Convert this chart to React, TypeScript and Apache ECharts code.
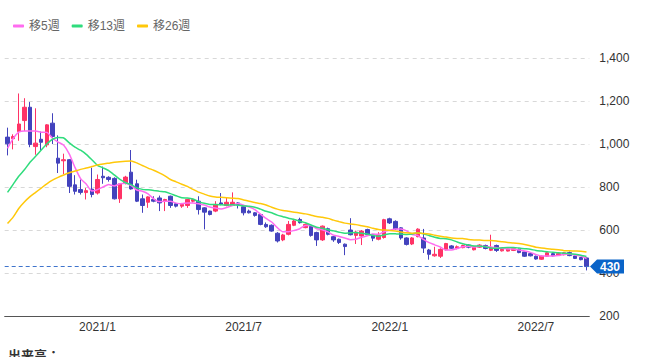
import React, { useEffect, useRef } from "react";
import * as echarts from "echarts";

// Weekly candles, first week starting 2020/9/14
const startYear = 2020;
const startMonth = 9;
const startDay = 14;

const opens = [
  1032, 1025, 1058, 1109, 1171, 988, 1022, 996, 1097, 934, 922, 927, 810, 788, 774, 790, 772, 850, 845, 840,
  745, 818, 869, 815, 745, 729, 742, 749, 734, 757, 722, 711, 714, 734, 734, 703, 688, 688, 726, 714,
  714, 726, 708, 688, 680, 672, 626, 622, 585, 554, 580, 622, 649, 611, 618, 588, 554, 606, 569, 557,
  534, 600, 575, 572, 602, 578, 557, 565, 652, 640, 610, 563, 535, 569, 563, 507, 480, 478, 508, 526,
  515, 518, 530, 508, 520, 528, 506, 528, 503, 502, 505, 510, 498, 490, 478, 464, 478, 490, 482, 485,
  495, 479, 472, 470,
];
const closes = [
  1001, 1035, 1093, 1171, 998, 1004, 1008, 1089, 1035, 911, 927, 803, 780, 775, 783, 765, 835, 843, 835, 745,
  815, 846, 791, 734, 714, 754, 734, 726, 742, 714, 711, 719, 742, 742, 695, 683, 672, 719, 720, 729,
  729, 718, 680, 680, 668, 626, 615, 595, 549, 577, 626, 642, 634, 626, 575, 554, 618, 580, 554, 542,
  523, 578, 590, 595, 578, 562, 576, 648, 633, 605, 563, 533, 563, 604, 516, 487, 487, 510, 537, 515,
  522, 528, 520, 522, 530, 514, 518, 505, 510, 512, 513, 495, 478, 480, 465, 478, 494, 480, 490, 494,
  481, 468, 462, 430,
];
const highs = [
  1076, 1045, 1235, 1213, 1195, 1166, 1058, 1092, 1143, 1040, 955, 930, 855, 835, 795, 890, 858, 895, 850, 845,
  818, 852, 972, 834, 765, 757, 757, 760, 745, 760, 726, 726, 745, 745, 757, 706, 690, 734, 772, 750,
  775, 730, 712, 695, 683, 675, 635, 626, 590, 582, 642, 652, 657, 630, 626, 592, 621, 611, 572, 560,
  537, 655, 597, 600, 606, 582, 590, 652, 657, 645, 613, 566, 567, 608, 605, 512, 522, 515, 540, 530,
  528, 532, 534, 526, 534, 532, 578, 532, 514, 515, 517, 514, 500, 493, 481, 481, 498, 493, 493, 497,
  500, 482, 475, 472,
];
const lows = [
  947, 975, 1015, 1060, 985, 950, 972, 985, 1000, 865, 860, 772, 765, 765, 742, 752, 765, 815, 825, 742,
  726, 812, 788, 730, 680, 703, 729, 688, 688, 703, 705, 703, 703, 728, 672, 603, 668, 683, 715, 710,
  712, 700, 668, 677, 662, 622, 610, 592, 542, 548, 575, 618, 630, 608, 569, 526, 549, 575, 545, 535,
  483, 575, 535, 530, 572, 548, 552, 560, 628, 600, 555, 528, 530, 566, 493, 462, 476, 470, 505, 512,
  510, 515, 515, 505, 517, 510, 502, 498, 500, 500, 502, 492, 475, 477, 462, 461, 475, 477, 479, 482,
  478, 465, 459, 412,
];

const ma5 = [
  980, 1025, 1055, 1060, 1060, 1060, 1055, 1054, 1027, 1009, 994, 953, 891, 839, 814, 781, 788, 800, 812, 805,
  815, 817, 806, 786, 780, 768, 745, 732, 734, 734, 725, 722, 726, 726, 722, 716, 707, 702, 698, 705,
  714, 723, 715, 707, 695, 674, 654, 637, 611, 592, 592, 598, 606, 621, 621, 606, 601, 591, 576, 570,
  563, 555, 557, 566, 573, 581, 580, 592, 599, 605, 605, 596, 579, 574, 556, 541, 531, 521, 507, 507,
  514, 522, 524, 521, 524, 523, 521, 518, 515, 512, 512, 507, 502, 496, 486, 479, 479, 479, 481, 487,
  488, 483, 479, 467,
];
const ma13 = [
  775, 812, 850, 880, 915, 943, 972, 1000, 1022, 1030, 1028, 1005, 985, 971, 952, 927, 901, 889, 876, 856,
  835, 820, 811, 796, 789, 787, 784, 780, 778, 769, 759, 750, 749, 744, 732, 724, 719, 719, 717, 716,
  717, 715, 712, 710, 706, 697, 687, 680, 669, 662, 655, 649, 641, 634, 623, 613, 608, 601, 596, 590,
  585, 587, 588, 585, 581, 575, 571, 577, 583, 582, 581, 579, 581, 587, 582, 574, 566, 561, 559, 554,
  544, 536, 530, 526, 526, 522, 516, 515, 517, 519, 519, 516, 513, 510, 505, 502, 499, 496, 494, 492,
  490, 487, 483, 477,
];
const ma26 = [
  630, 660, 700, 730, 755, 775, 795, 815, 832, 845, 856, 866, 874, 882, 888, 895, 902, 907, 911, 915,
  918, 920, 921, 912, 900, 888, 878, 866, 852, 835, 824, 813, 803, 789, 776, 767, 758, 754, 752, 750,
  748, 746, 740, 734, 728, 723, 716, 706, 697, 691, 687, 683, 679, 675, 669, 663, 659, 654, 646, 639,
  632, 628, 625, 620, 615, 608, 602, 600, 598, 595, 591, 587, 585, 586, 584, 581, 576, 571, 567, 563,
  561, 560, 556, 554, 553, 551, 551, 549, 545, 542, 540, 537, 533, 527, 520, 516, 513, 511, 508, 504,
  503, 502, 501, 498,
];

const yTicks = { min: 200, max: 1400, step: 200 };
const seriesNames = ["移5週", "移13週", "移26週"];
const lineColors = ["#ff6cf0", "#2fdc7c", "#ffc80a"];
const upColor = "#ff3366";
const downColor = "#4343bd";
const tagColor = "#0a64c8";
const volumeLabel = "出来高：";

const dates: string[] = [];
for (let i = 0; i < closes.length; i++) {
  const d = new Date(Date.UTC(startYear, startMonth - 1, startDay + i * 7));
  dates.push(`${d.getUTCFullYear()}/${d.getUTCMonth() + 1}/${d.getUTCDate()}`);
}
const monthOf = (s: string) => Number(s.split("/")[1]);

const FONT = "'Liberation Sans', Arial, 'Noto Sans CJK JP', sans-serif";

export default function App() {
  const ref = useRef<HTMLDivElement>(null);
  useEffect(() => {
    if (!ref.current) return;
    const chart = echarts.init(ref.current, undefined, { renderer: "svg" });
    const candleData = closes.map((c, i) => [opens[i], c, lows[i], highs[i]]);
    const lastClose = closes[closes.length - 1];
    const maData = [ma5, ma13, ma26];
    chart.setOption({
      animation: false,
      textStyle: { fontFamily: FONT },
      legend: {
        left: 8,
        top: 15,
        itemWidth: 11,
        itemHeight: 3,
        itemGap: 12,
        icon: "roundRect",
        textStyle: { color: "#666", fontSize: 12, fontFamily: FONT },
        data: seriesNames,
      },
      grid: { left: 4.7, right: 63.7, top: 58, bottom: 41 },
      xAxis: {
        type: "category",
        data: dates,
        boundaryGap: true,
        axisLine: { show: true, lineStyle: { color: "#555", width: 1 } },
        axisTick: { show: false },
        splitLine: { show: false },
        axisLabel: {
          color: "#333",
          fontSize: 12,
          margin: 5,
          interval: (index: number, value: string) => {
            const m = monthOf(value);
            const prev = index > 0 ? monthOf(dates[index - 1]) : -1;
            return (m === 1 || m === 7) && m !== prev;
          },
          formatter: (value: string) => {
            const p = value.split("/");
            return `${p[0]}/${p[1]}`;
          },
        },
      },
      yAxis: {
        type: "value",
        position: "right",
        min: yTicks.min,
        max: yTicks.max,
        interval: yTicks.step,
        axisLine: { show: false },
        axisTick: { show: false },
        splitLine: { show: true, lineStyle: { color: "#d8d8d8", type: [4, 4] } },
        axisLabel: {
          color: "#333",
          fontSize: 12,
          margin: 10,
          formatter: (v: number) => v.toLocaleString("en-US"),
        },
      },
      series: [
        {
          type: "candlestick",
          data: candleData,
          barWidth: 4,
          clip: false,
          itemStyle: {
            color: upColor,
            color0: downColor,
            borderColor: upColor,
            borderColor0: downColor,
            borderWidth: 1,
          },
          markLine: {
            silent: true,
            symbol: ["none", "none"],
            label: { show: false },
            lineStyle: { color: "#3f74cc", type: [4, 3], width: 1 },
            data: [{ yAxis: lastClose }],
          },
          z: 2,
        },
        ...seriesNames.map((name, k) => ({
          type: "line",
          name,
          data: maData[k],
          showSymbol: false,
          symbol: "none",
          smooth: 0.2,
          lineStyle: { color: lineColors[k], width: 1.5 },
          itemStyle: { color: lineColors[k] },
          z: 3,
        })),
      ],
    });
    const py = chart.convertToPixel({ yAxisIndex: 0 }, lastClose) as number;
    chart.setOption({
      graphic: [
        {
          type: "polygon",
          z: 100,
          shape: {
            points: [
              [590, py],
              [597, py - 7],
              [624, py - 7],
              [624, py + 7],
              [597, py + 7],
            ],
          },
          style: { fill: tagColor },
        },
        {
          type: "text",
          z: 101,
          x: 610,
          y: py,
          style: {
            text: String(lastClose),
            fill: "#fff",
            font: `bold 12px ${FONT}`,
            textAlign: "center",
            textVerticalAlign: "middle",
          },
        },
        {
          type: "text",
          x: 8,
          y: 349,
          style: {
            text: volumeLabel,
            fill: "#333",
            font: `bold 13px ${FONT}`,
          },
        },
      ],
    });
    return () => chart.dispose();
  }, []);
  return (
    <div
      ref={ref}
      style={{ position: "absolute", left: 0, top: 0, width: 653, height: 357, background: "#fff" }}
    />
  );
}
